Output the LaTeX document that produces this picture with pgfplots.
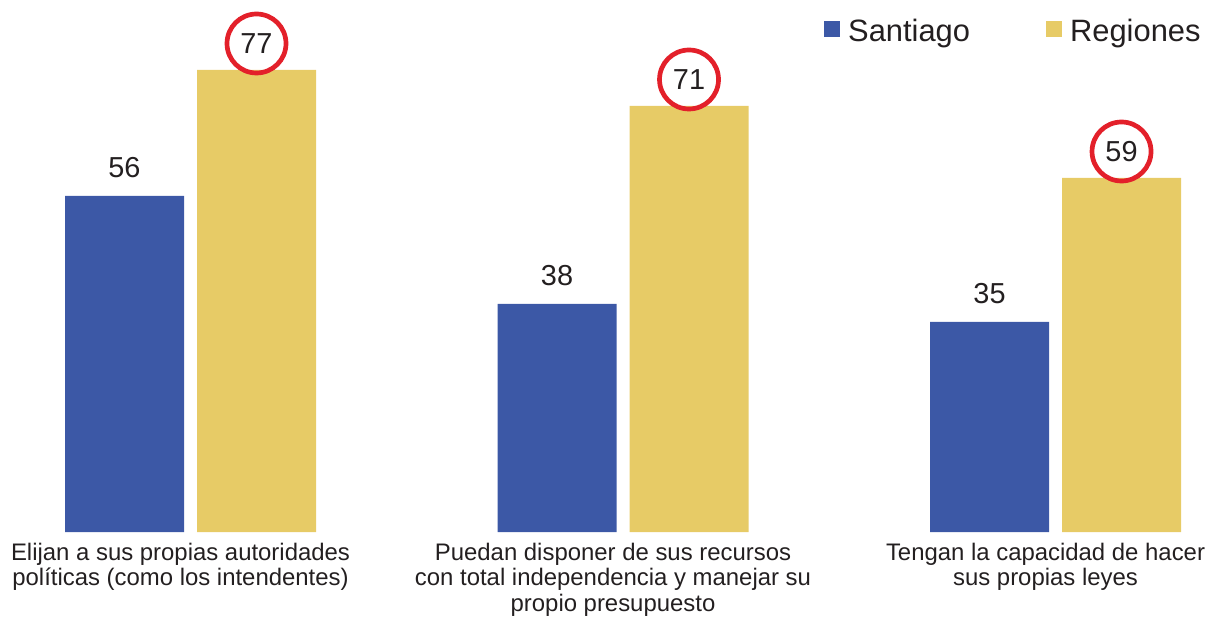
\documentclass[border=0pt]{standalone}
\usepackage{pgfplots}
\pgfplotsset{compat=1.18}
\usepackage{fontspec}
\setmainfont{Liberation Sans}
\definecolor{sblue}{HTML}{3C58A6}
\definecolor{ryellow}{HTML}{E7CB66}
\definecolor{ring}{HTML}{E3202A}
\definecolor{txt}{HTML}{231F20}

\begin{document}
\begin{tikzpicture}
\useasboundingbox (0,-89bp) rectangle (1216bp,532bp);
\begin{axis}[
  at={(0,0)}, anchor=south west,
  scale only axis, width=1216bp, height=532bp,
  xmin=-0.44046, xmax=2.37110, ymin=0, ymax=88.667,
  clip=false,
  /pgf/number format/assume math mode=true,
  axis line style={draw=none},
  major tick length=0pt,
  ytick=\empty,
  xtick={0,1,2},
  xticklabels={{Elijan a sus propias autoridades\\políticas (como los intendentes)},
    {Puedan disponer de sus recursos\\con total independencia y manejar su\\propio presupuesto},
    {Tengan la capacidad de hacer\\sus propias leyes}},
  xticklabel style={align=center, font=\fontsize{24}{25.7}\selectfont, text=txt,
    inner sep=0pt, anchor=north, xshift=-10bp, yshift=-10.5bp},
  legend columns=2,
  legend style={draw=none, fill=none, inner sep=0pt, text=txt,
    font=\fontsize{31}{31}\selectfont,
    nodes={inner sep=0pt},
    at={(axis description cs:0.6776,0.9420)}, anchor=west,
    /tikz/every even column/.append style={column sep=76bp}},
]
\addplot[ybar, bar width=119bp, bar shift=-66bp, fill=sblue, draw=none,
  legend image code/.code={\fill[sblue] (0bp,-6bp) rectangle (16bp,10bp); \path (24bp,0bp);},
  nodes near coords,
  every node near coord/.append style={font=\fontsize{29}{29}\selectfont, text=txt,
    anchor=center, xshift=-66bp, yshift=28.5bp}]
  coordinates {(0,56) (1,38) (2,35)};
\addlegendentry{Santiago}
\addplot[ybar, bar width=119bp, bar shift=66bp, fill=ryellow, draw=none,
  legend image code/.code={\fill[ryellow] (0bp,-6bp) rectangle (16bp,10bp); \path (24bp,0bp);},
  nodes near coords,
  every node near coord/.append style={font=\fontsize{29}{29}\selectfont, text=txt,
    circle, draw=ring, line width=4.7bp, minimum size=59bp, inner sep=0pt,
    anchor=center, xshift=66bp, yshift=26.5bp}]
  coordinates {(0,77) (1,71) (2,59)};
\addlegendentry{Regiones}
\end{axis}
\end{tikzpicture}
\end{document}
